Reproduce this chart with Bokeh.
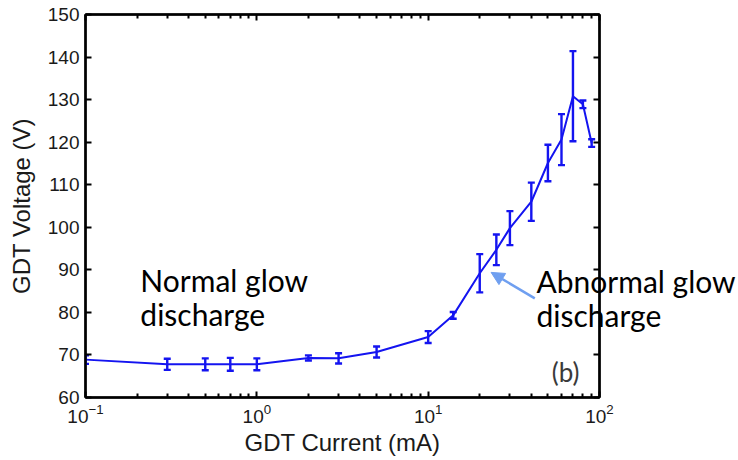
from bokeh.plotting import figure
from bokeh.models import (ColumnDataSource, Whisker, TeeHead, Arrow, NormalHead, Label,
                          LogAxis, LinearAxis, FixedTicker, CustomJSTickFormatter, Range1d)
from bokeh.embed import file_html
from bokeh.resources import INLINE

# GDT operating curve: mean voltage with spread at each current level
current_ma = [0.1, 0.3, 0.5, 0.7, 1, 2, 3, 5, 10, 14, 20, 25, 30, 40, 50, 60, 70, 80, 90]
voltage_v = [68.9, 67.8, 67.8, 67.8, 67.8, 69.3, 69.2, 70.7, 74.2, 79.3, 89.2, 94.7,
             99.8, 106.0, 115.1, 120.6, 130.8, 128.9, 119.8]
spread_v = [1.0, 1.3, 1.4, 1.5, 1.4, 0.6, 1.2, 1.3, 1.4, 0.8, 4.5, 3.6, 4.0, 4.5,
            4.3, 6.0, 10.6, 0.9, 0.9]

x_ticks = [0.1, 1, 10, 100]
y_ticks = [60, 70, 80, 90, 100, 110, 120, 130, 140, 150]

# two-line region notes
normal_note = ["Normal glow", "discharge"]
abnormal_note = ["Abnormal glow", "discharge"]

BLUE = "#1414f0"
AXIS_FONT = "Liberation Sans"

src = ColumnDataSource(dict(
    x=current_ma, y=voltage_v,
    lo=[v - e for v, e in zip(voltage_v, spread_v)],
    hi=[v + e for v, e in zip(voltage_v, spread_v)],
))

p = figure(width=738, height=460, x_axis_type="log",
           x_range=Range1d(0.1, 100), y_range=Range1d(60, 150),
           output_backend="svg", toolbar_location=None,
           min_border_left=85, min_border_right=138,
           min_border_top=14, min_border_bottom=63)
p.background_fill_color = "white"
p.border_fill_color = "white"
p.xgrid.visible = False
p.ygrid.visible = False
p.outline_line_color = "black"
p.outline_line_width = 2

minor = [m * d for d in (0.1, 1, 10) for m in range(2, 10)]
xt = FixedTicker(ticks=x_ticks, minor_ticks=minor)
yt = FixedTicker(ticks=y_ticks, minor_ticks=[])


def style_axis(ax):
    ax.axis_line_color = "black"
    ax.axis_line_width = 2.5
    ax.major_tick_in = 6
    ax.major_tick_out = 0
    ax.minor_tick_in = 4
    ax.minor_tick_out = 0
    ax.major_tick_line_width = 2
    ax.minor_tick_line_width = 2
    ax.major_tick_line_color = "black"
    ax.minor_tick_line_color = "black"
    ax.major_label_text_font = AXIS_FONT
    ax.major_label_text_font_size = "19px"
    ax.major_label_text_color = "#1a1a1a"
    ax.axis_label_text_font = AXIS_FONT
    ax.axis_label_text_font_size = "24px"
    ax.axis_label_text_font_style = "normal"
    ax.axis_label_text_color = "#1a1a1a"


xa = p.xaxis[0]
xa.ticker = xt
xa.axis_label = "GDT Current (mA)"
style_axis(xa)
xa.major_label_standoff = 6
xa.axis_label_standoff = 3

ya = p.yaxis[0]
ya.ticker = yt
ya.axis_label = "GDT Voltage (V)"
style_axis(ya)
ya.major_label_standoff = 6
ya.axis_label_standoff = 10

blank = CustomJSTickFormatter(code="return ''")
top = LogAxis(ticker=xt, formatter=blank)
style_axis(top)
top.major_label_standoff = 0
p.add_layout(top, "above")
right = LinearAxis(ticker=yt, formatter=blank)
style_axis(right)
right.major_label_standoff = 0
p.add_layout(right, "right")

# curve and error bars
p.line("x", "y", source=src, line_color=BLUE, line_width=2)
p.add_layout(Whisker(source=src, base="x", lower="lo", upper="hi",
                     line_color=BLUE, line_width=2.4,
                     lower_head=TeeHead(size=7, line_color=BLUE, line_width=2.4),
                     upper_head=TeeHead(size=7, line_color=BLUE, line_width=2.4)))

# left note as labels inside the frame
TXT = dict(text_font="Lato", text_font_size="30px", text_color="black",
           text_baseline="alphabetic")
p.add_layout(Label(x=0.209, y=87.7, text=normal_note[0], **TXT))
p.add_layout(Label(x=0.209, y=79.6, text=normal_note[1], **TXT))
p.add_layout(Label(x=52.6, y=66.0, text="(b)", text_font="Lato", text_font_size="26px",
                   text_color="#3a3a3a", text_baseline="alphabetic"))

# right note overhangs the box, so it is carried by a label-only side axis
note_axis = LinearAxis(
    ticker=FixedTicker(ticks=[79.3, 87.3], minor_ticks=[]),
    formatter=CustomJSTickFormatter(args=dict(lines=abnormal_note[::-1]),
                                    code="return lines[index]"),
    axis_line_color=None, major_tick_line_color=None, minor_tick_line_color=None,
    major_tick_in=0, major_tick_out=0,
    major_label_standoff=-63,
    major_label_text_font="Lato", major_label_text_font_size="30px",
    major_label_text_color="black",
)
p.add_layout(note_axis, "right")

p.add_layout(Arrow(x_start=41.9, y_start=83.3, x_end=23.3, y_end=89.4,
                   line_color="#6f9ff0", line_width=2.5,
                   end=NormalHead(size=13, fill_color="#6f9ff0", line_color="#6f9ff0")))

open("out.html", "w").write(file_html(p, INLINE))
